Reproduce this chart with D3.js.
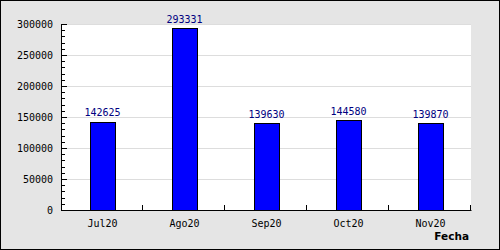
<!DOCTYPE html>
<html><head><meta charset="utf-8">
<script src="https://cdn.jsdelivr.net/npm/d3@7"></script>
<style>body{margin:0;padding:0;overflow:hidden}svg{display:block}</style>
</head><body>
<script>
const categories = ["Jul20","Ago20","Sep20","Oct20","Nov20"];
const values = [142625, 293331, 139630, 144580, 139870];
const yTicks = [0,50000,100000,150000,200000,250000,300000];
const xTitle = "Fecha";

const W=500,H=250, L=61, R=471, T=24, B=210;
const svg=d3.select("body").append("svg").attr("width",W).attr("height",H);
svg.append("rect").attr("x",0.5).attr("y",0.5).attr("width",W-1).attr("height",H-1)
  .attr("fill","#e5e5e5").attr("stroke","#000");
svg.append("rect").attr("x",L).attr("y",T).attr("width",R-L).attr("height",B-T).attr("fill","#fff");

const x=d3.scaleBand().domain(categories).range([L,R]);
const y=d3.scaleLinear().domain([0,300000]).range([B,T]);
const font="DejaVu Sans Mono, monospace";

// grid
svg.append("g").selectAll("line").data(yTicks.filter(d=>d>0)).join("line")
  .attr("x1",L).attr("x2",R).attr("y1",d=>Math.round(y(d))+0.5).attr("y2",d=>Math.round(y(d))+0.5)
  .attr("stroke","#dddddd");

// bars
const bw=25;
svg.append("g").selectAll("rect").data(values).join("rect")
  .attr("x",(d,i)=>Math.round(x(categories[i])+x.bandwidth()/2-bw/2)+0.5)
  .attr("y",d=>Math.round(y(d))+0.5)
  .attr("width",bw).attr("height",d=>Math.round(B)-Math.round(y(d)))
  .attr("fill","#0000ff").attr("stroke","#000");

// value labels
svg.append("g").selectAll("text").data(values).join("text")
  .attr("x",(d,i)=>x(categories[i])+x.bandwidth()/2+0.5)
  .attr("y",d=>y(d)-5.5).attr("text-anchor","middle")
  .attr("font-family",font).attr("font-size",10).attr("fill","#000080")
  .text(d=>d);

// y axis
const ya=svg.append("g");
ya.append("line").attr("x1",L+0.5).attr("x2",L+0.5).attr("y1",T).attr("y2",B+0.5).attr("stroke","#000");
const minor=d3.range(0,300001,10000);
ya.selectAll("line.mn").data(minor).join("line").attr("class","mn")
  .attr("x1",L).attr("x2",d=>d%50000===0?L+6:L+4)
  .attr("y1",d=>Math.round(y(d))+0.5).attr("y2",d=>Math.round(y(d))+0.5).attr("stroke","#000");
ya.selectAll("text").data(yTicks).join("text")
  .attr("x",53).attr("y",d=>y(d)+3.5).attr("text-anchor","end")
  .attr("font-family",font).attr("font-size",10).attr("fill","#000").text(d=>d);

// x axis
const xa=svg.append("g");
xa.append("line").attr("x1",L).attr("x2",R+0.5).attr("y1",B+0.5).attr("y2",B+0.5).attr("stroke","#000");
const bounds=categories.slice(1).map(c=>x(c)).concat([R]);
xa.selectAll("line.t").data(bounds).join("line").attr("class","t")
  .attr("x1",d=>Math.round(d)-0.5).attr("x2",d=>Math.round(d)-0.5).attr("y1",B).attr("y2",B-5).attr("stroke","#000");
xa.selectAll("text").data(categories).join("text")
  .attr("x",d=>x(d)+x.bandwidth()/2+0.5).attr("y",227).attr("text-anchor","middle")
  .attr("font-family",font).attr("font-size",10).attr("fill","#000").text(d=>d);
svg.append("text").attr("x",469).attr("y",240).attr("text-anchor","end")
  .attr("font-family","DejaVu Sans, sans-serif").attr("font-weight","bold").attr("font-size",10.5)
  .attr("fill","#000").text(xTitle);
</script>
</body></html>
